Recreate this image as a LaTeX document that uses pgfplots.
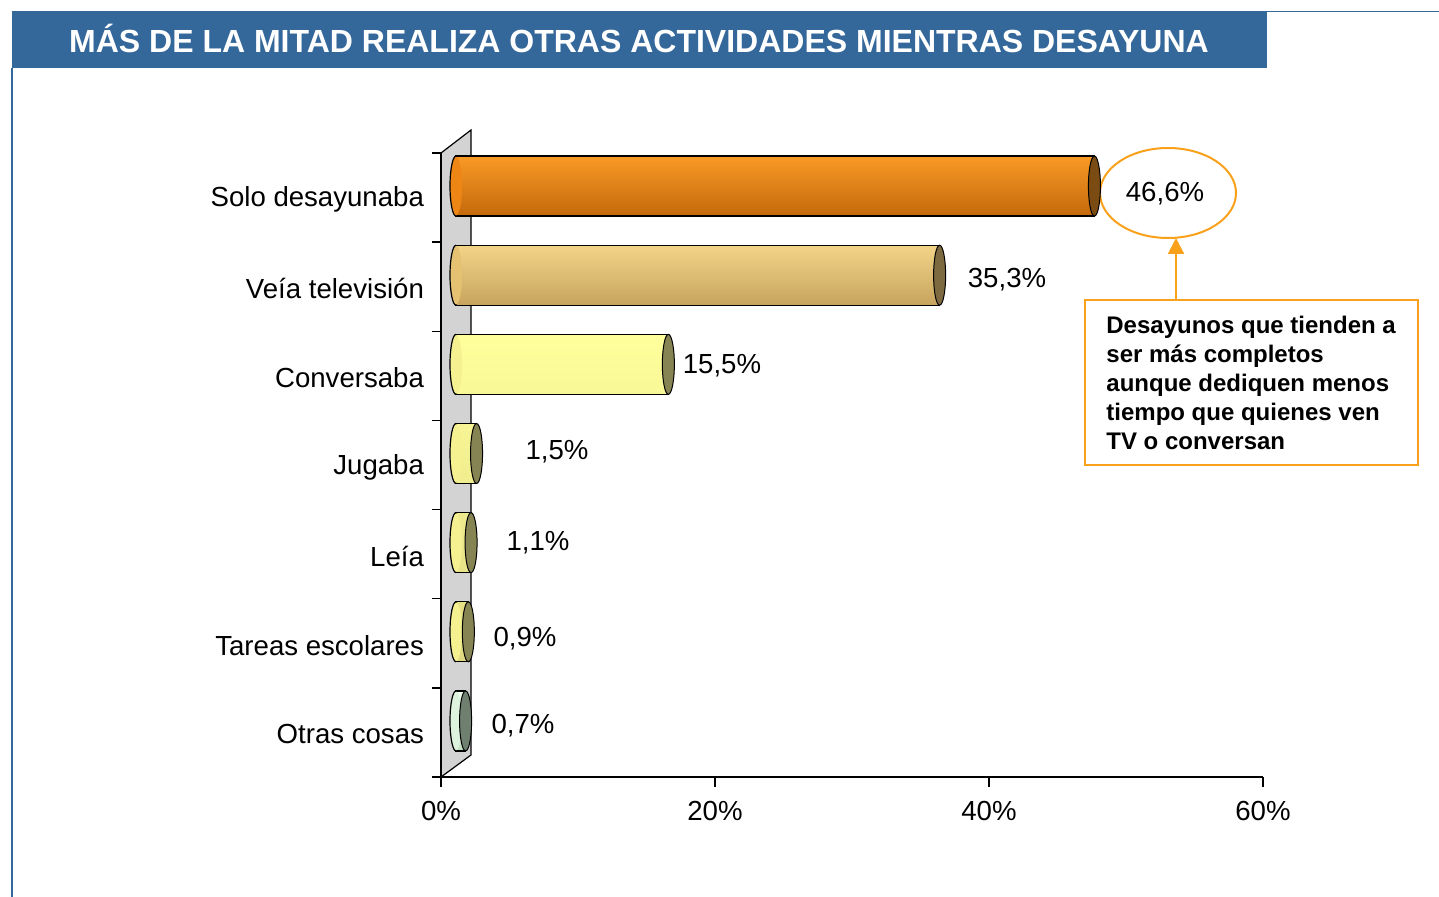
\documentclass[border=0pt]{standalone}
\usepackage{pgfplots}
\pgfplotsset{compat=1.18}
\usetikzlibrary{arrows.meta}
\usepackage{fontspec}
\setmainfont{Liberation Sans}
\definecolor{titleblue}{HTML}{34679A}
\definecolor{annor}{HTML}{F9A11B}
\definecolor{orT}{HTML}{F99A25}
\definecolor{orM}{HTML}{EE8616}
\definecolor{orB}{HTML}{C4690C}
\definecolor{orC}{HTML}{7B4B14}
\definecolor{tnT}{HTML}{F2D488}
\definecolor{tnM}{HTML}{E4C272}
\definecolor{tnB}{HTML}{C7A45E}
\definecolor{tnC}{HTML}{7D6A40}
\definecolor{ylT}{HTML}{FFFF9C}
\definecolor{ylM}{HTML}{F5F190}
\definecolor{ylB}{HTML}{DFD880}
\definecolor{ylC}{HTML}{868452}
\definecolor{grT}{HTML}{EEFFEE}
\definecolor{grM}{HTML}{DDF3DD}
\definecolor{grB}{HTML}{C3E0C3}
\definecolor{grC}{HTML}{6F8070}
\definecolor{wallgray}{HTML}{D3D3D3}
\pgfdeclareplotmark{cap}{\pgfpathellipse{\pgfpointorigin}{\pgfpoint{3pt}{0pt}}{\pgfpoint{0pt}{15pt}}\pgfusepathqfillstroke}
\pgfdeclareplotmark{capL}{\pgfpathellipse{\pgfpointorigin}{\pgfpoint{3pt}{0pt}}{\pgfpoint{0pt}{14.7pt}}\pgfusepathqfill
 \pgfpathmoveto{\pgfpoint{0pt}{15pt}}\pgfpatharc{90}{270}{3pt and 15pt}\pgfusepathqstroke}
\begin{document}
\begin{tikzpicture}
\def\u{0.5pt}
\path[use as bounding box] (0,0) rectangle (1439*\u,-897*\u);
\begin{scope}[x=\u,y=-\u]
 \fill[titleblue] (12,12) rectangle (1267,68);
 \draw[titleblue, line width=0.8pt] (12,11.5) -- (1439,11.5);
 \draw[titleblue, line width=0.8pt] (12,68) -- (12,897);
 \node[text=white, font=\bfseries\fontsize{16}{19}\selectfont] at (639,38) {MÁS DE LA MITAD REALIZA OTRAS ACTIVIDADES MIENTRAS DESAYUNA};
 \filldraw[fill=wallgray, draw=black, line width=0.6pt] (441,153) -- (471,130) -- (471,755) -- (441,777) -- cycle;
 \draw[annor, line width=1pt, fill=white] (1168,193) ellipse [x radius=68, y radius=45];
 \draw[annor, line width=1pt, -{Triangle[length=8pt,width=8pt]}] (1176,300) -- (1176,238);
 \draw[annor, line width=1pt] (1085,300) rectangle (1418,465);
 \node[anchor=north west, inner sep=0pt, align=left, font=\bfseries\fontsize{12}{14.5}\selectfont] at (1106,316) {Desayunos que tienden a\\ser más completos\\aunque dediquen menos\\tiempo que quienes ven\\TV o conversan};
\end{scope}
\begin{axis}[at={(441*\u,-777*\u)}, anchor=south west, scale only axis,
  width=822*\u, height=624*\u, xmin=0, xmax=60, ymin=-0.5, ymax=6.5,
  axis x line*=bottom, axis y line*=left, axis line style={-, line width=0.75pt},
  xtick={0,20,40,60}, xticklabels={0\%,20\%,40\%,60\%},
  ytick={0,...,6}, yticklabels={Otras cosas,Tareas escolares,Leía,Jugaba,Conversaba,Veía televisión,Solo desayunaba},
  minor ytick={-0.5,0.5,...,6.5},
  tick align=outside, major tick length=5pt, minor tick length=4.5pt,
  major y tick style={draw=none}, minor y tick style={line width=0.75pt, black},
  major x tick style={line width=0.75pt, black},
  tick label style={font=\fontsize{13.8}{16}\selectfont, black},
  xticklabel style={yshift=-3.5pt}, yticklabel style={yshift=-1pt}]
\end{axis}
\begin{axis}[at={(456*\u,-765.5*\u)}, anchor=south west, scale only axis,
  width=822*\u, height=624*\u, xmin=0, xmax=60, ymin=-0.5, ymax=6.5,
  hide axis, clip=false]
 % bodies
 \addplot[xbar, bar width=30pt, bar shift=0pt, draw=black, line width=0.6pt, top color=orT, middle color=orM, bottom color=orB] coordinates {(46.6,6)};
 \addplot[xbar, bar width=30pt, bar shift=0pt, draw=black, line width=0.6pt, top color=tnT, middle color=tnM, bottom color=tnB] coordinates {(35.3,5)};
 \addplot[xbar, bar width=30pt, bar shift=0pt, draw=black, line width=0.6pt, top color=ylT, middle color=ylM, bottom color=ylB] coordinates {(15.5,4) (1.5,3) (1.1,2) (0.9,1)};
 \addplot[xbar, bar width=30pt, bar shift=0pt, draw=black, line width=0.6pt, top color=grT, middle color=grM, bottom color=grB] coordinates {(0.7,0)};
 % left caps
 \addplot[only marks, mark=capL, mark options={fill=orM, draw=black, line width=0.6pt}] coordinates {(0,6)};
 \addplot[only marks, mark=capL, mark options={fill=tnM, draw=black, line width=0.6pt}] coordinates {(0,5)};
 \addplot[only marks, mark=capL, mark options={fill=ylM, draw=black, line width=0.6pt}] coordinates {(0,4) (0,3) (0,2) (0,1)};
 \addplot[only marks, mark=capL, mark options={fill=grM, draw=black, line width=0.6pt}] coordinates {(0,0)};
 % right caps
 \addplot[only marks, mark=cap, mark options={fill=orC, draw=black, line width=0.5pt}] coordinates {(46.6,6)};
 \addplot[only marks, mark=cap, mark options={fill=tnC, draw=black, line width=0.5pt}] coordinates {(35.3,5)};
 \addplot[only marks, mark=cap, mark options={fill=ylC, draw=black, line width=0.5pt}] coordinates {(15.5,4) (1.5,3) (1.1,2) (0.9,1)};
 \addplot[only marks, mark=cap, mark options={fill=grC, draw=black, line width=0.5pt}] coordinates {(0.7,0)};
\end{axis}
\begin{scope}[x=\u,y=-\u, every node/.style={font=\fontsize{13.8}{16}\selectfont}]
 \node at (1165,194) {46,6\%};
 \node at (1007,280) {35,3\%};
 \node at (722,366) {15,5\%};
 \node at (557,452) {1,5\%};
 \node at (538,543) {1,1\%};
 \node at (525,639) {0,9\%};
 \node at (523,726) {0,7\%};
\end{scope}
\end{tikzpicture}
\end{document}
